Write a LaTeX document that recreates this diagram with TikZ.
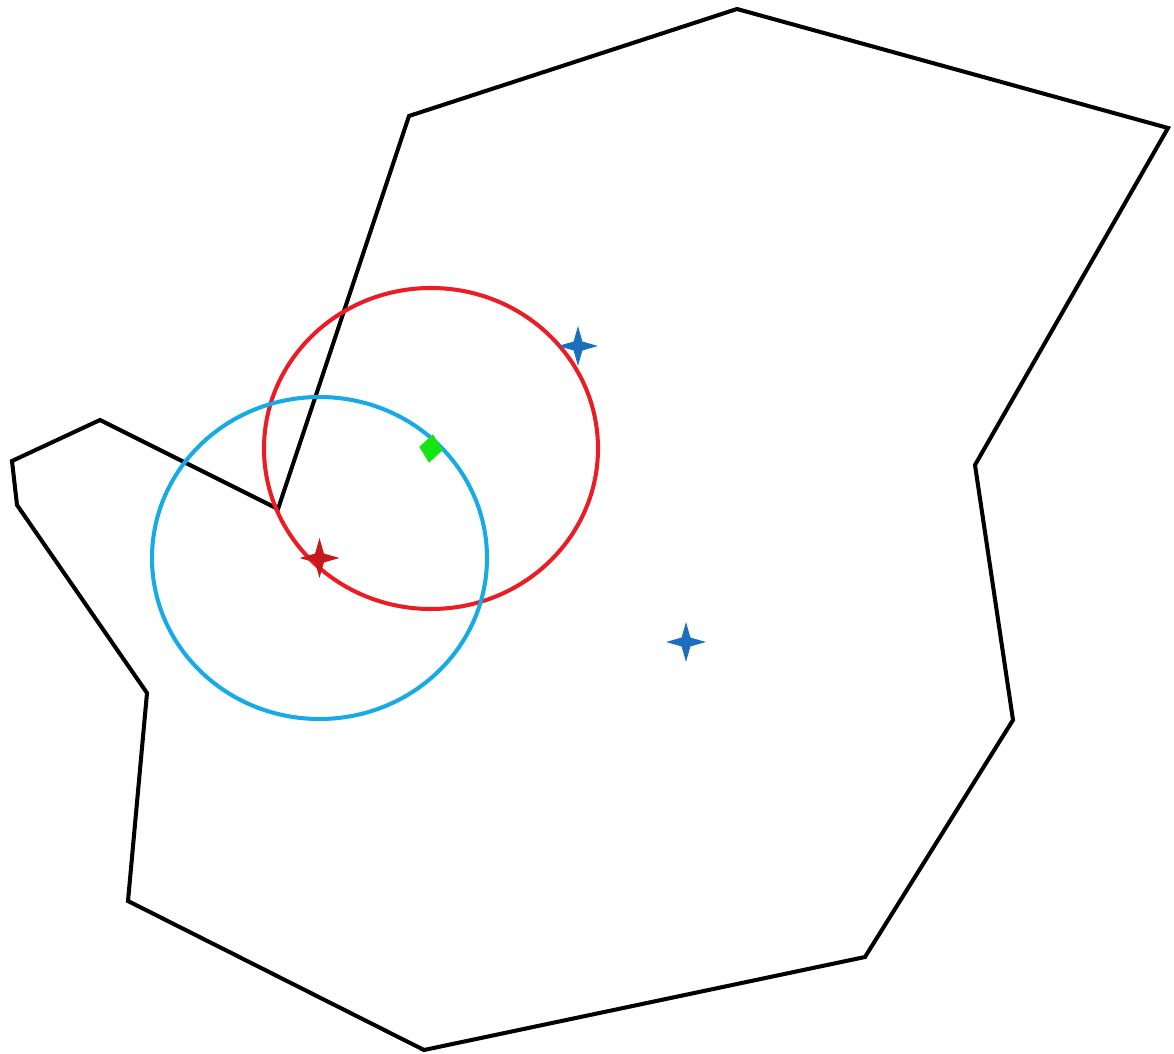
\documentclass[tikz,border=0pt]{standalone}
\usepackage{tikz}
\usetikzlibrary{shapes.geometric}
\definecolor{ringred}{RGB}{236,28,36}
\definecolor{ringcyan}{RGB}{22,170,230}
\definecolor{starblue}{RGB}{28,110,190}
\definecolor{stardark}{RGB}{200,24,28}
\definecolor{markgreen}{RGB}{20,230,20}
\tikzset{
  border/.style={draw=black,line width=2.3pt,line join=miter},
  ring/.style={line width=2.3pt},
  spark/.style={star,star points=4,star point ratio=3.2,minimum size=0.8cm,inner sep=0pt},
  gem/.style={diamond,fill=markgreen,minimum width=0.48cm,minimum height=0.58cm,inner sep=0pt,rotate=-8}
}

\begin{document}
\begin{tikzpicture}[x=0.02cm,y=-0.02cm]
\useasboundingbox (0,0) rectangle (1174,1054);
% outline
\draw[border] (409,116) -- (737,9) -- (1168,128) -- (975,465) -- (1013,720)
  -- (865,957) -- (424,1050) -- (128,901) -- (147,693) -- (17,505)
  -- (12,461) -- (100,420) -- (278,509) -- cycle;
% circles
\coordinate (cr) at (431,448.5);
\coordinate (cc) at (319.5,558);
\draw[ring,ringred] (cr) ellipse [x radius=167,y radius=160.5];
\draw[ring,ringcyan] (cc) ellipse [x radius=167.5,y radius=161];
% markers
\node[gem] (g1) at (cr) {};
\node[spark,fill=stardark] (s0) at (cc) {};
\node[spark,fill=starblue] (s1) at (578,346) {};
\node[spark,fill=starblue] (s2) at (686,642) {};
\end{tikzpicture}
\end{document}
